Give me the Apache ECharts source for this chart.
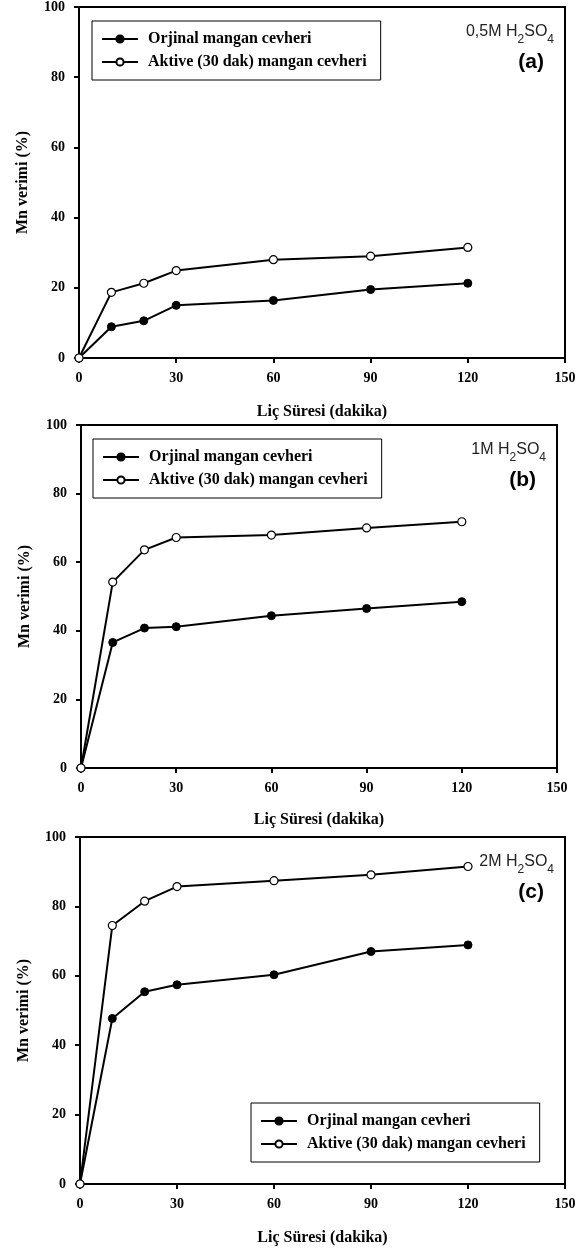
<!DOCTYPE html>
<html>
<head>
<meta charset="utf-8">
<script src="https://cdn.jsdelivr.net/npm/echarts@6/dist/echarts.min.js"></script>
<style>
  html, body { margin: 0; padding: 0; background: #fff; }
  #chart { width: 584px; height: 1251px; }
</style>
</head>
<body>
<div id="chart"></div>
<script>
// leaching time (dakika)
var timeMin = [0, 10, 20, 30, 60, 90, 120];
var seriesNames = ['Orjinal mangan cevheri', 'Aktive (30 dak) mangan cevheri'];
var xTicks = [0, 30, 60, 90, 120, 150];
var yTicks = [0, 20, 40, 60, 80, 100];

// (a) 0,5M H2SO4
var orjA = [0, 8.9, 10.6, 15.0, 16.4, 19.5, 21.3];
var aktA = [0, 18.7, 21.3, 24.9, 28.0, 29.0, 31.5];
// (b) 1M H2SO4
var orjB = [0, 36.6, 40.8, 41.2, 44.4, 46.5, 48.5];
var aktB = [0, 54.2, 63.6, 67.2, 67.9, 70.0, 71.8];
// (c) 2M H2SO4
var orjC = [0, 47.7, 55.4, 57.4, 60.3, 67.0, 68.9];
var aktC = [0, 74.5, 81.5, 85.7, 87.4, 89.1, 91.5];

var panelLabels = ['0,5M', '1M', '2M'];
var panelLetters = ['(a)', '(b)', '(c)'];

var serif = 'Liberation Serif';
var sans = 'Liberation Sans';

function pairs(vals) {
  return timeMin.map(function(t, i) { return [t, vals[i]]; });
}

var grids = [
  { left: 79, top: 7, width: 486, height: 351 },
  { left: 81, top: 425, width: 476, height: 343 },
  { left: 80, top: 837, width: 485, height: 347 }
];
var nameGaps = [46, 44, 46];

var option = {
  animation: false,
  backgroundColor: '#fff',
  grid: grids.map(function(g) {
    return {
      left: g.left, top: g.top, width: g.width, height: g.height,
      show: true, borderColor: '#000', borderWidth: 2, backgroundColor: 'transparent'
    };
  }),
  xAxis: [],
  yAxis: [],
  series: [],
  legend: [],
  title: []
};

var allData = [[orjA, aktA], [orjB, aktB], [orjC, aktC]];

grids.forEach(function(g, k) {
  option.xAxis.push({
    type: 'value', gridIndex: k, min: 0, max: 150, interval: 30,
    name: 'Liç Süresi (dakika)', nameLocation: 'middle', nameGap: nameGaps[k],
    nameTextStyle: { fontFamily: serif, fontWeight: 'bold', fontSize: 16, color: '#000' },
    axisLine: { show: true, lineStyle: { color: '#000', width: 2 } },
    axisTick: { show: true, inside: false, length: 5, lineStyle: { color: '#000', width: 2 } },
    axisLabel: { margin: 13, fontFamily: serif, fontWeight: 'bold', fontSize: 14, color: '#000' },
    splitLine: { show: false }
  });
  option.yAxis.push({
    type: 'value', gridIndex: k, min: 0, max: 100, interval: 20,
    name: 'Mn verimi (%)', nameLocation: 'middle', nameGap: 48,
    nameTextStyle: { fontFamily: serif, fontWeight: 'bold', fontSize: 16, color: '#000' },
    axisLine: { show: true, lineStyle: { color: '#000', width: 2 } },
    axisTick: { show: true, inside: false, length: 5, lineStyle: { color: '#000', width: 2 } },
    axisLabel: { margin: 14, fontFamily: serif, fontWeight: 'bold', fontSize: 14, color: '#000' },
    splitLine: { show: false }
  });
  var d = allData[k];
  option.series.push({
    name: seriesNames[0], type: 'line', xAxisIndex: k, yAxisIndex: k,
    data: pairs(d[0]), symbol: 'circle', symbolSize: 8,
    lineStyle: { color: '#000', width: 2 },
    itemStyle: { color: '#000', borderColor: '#000', borderWidth: 1 },
    z: 3
  });
  option.series.push({
    name: seriesNames[1], type: 'line', xAxisIndex: k, yAxisIndex: k,
    data: pairs(d[1]), symbol: 'circle', symbolSize: 8, showAllSymbol: true,
    lineStyle: { color: '#000', width: 2 },
    itemStyle: { color: '#fff', borderColor: '#000', borderWidth: 1.2 },
    z: 4
  });

  // subscripts for H2SO4
  option.title.push({
    text: '{t|' + panelLabels[k] + ' H}{s|2}{t|SO}{s|4}',
    right: 584 - (g.left + g.width) + 6,
    top: g.top + 12,
    textStyle: {
      fontWeight: 'normal',
      rich: {
        t: { fontFamily: sans, fontWeight: 'normal', fontSize: 16, color: '#222', verticalAlign: 'bottom' },
        s: { fontFamily: sans, fontWeight: 'normal', fontSize: 12, color: '#222', verticalAlign: 'bottom', padding: [0, 0, -6, 0] }
      }
    }
  });
  option.title.push({
    text: panelLetters[k],
    right: 584 - (g.left + g.width) + 16,
    top: g.top + 40,
    textStyle: { fontFamily: sans, fontWeight: 'bold', fontSize: 21, color: '#000' }
  });
});

var legendPos = [
  { left: 92, top: 21 },
  { left: 93, top: 439 },
  { left: 251, top: 1103 }
];
legendPos.forEach(function(p, k) {
  option.legend.push({
    data: seriesNames.map(function(n) { return n; }),
    orient: 'vertical',
    left: p.left, top: p.top,
    padding: [10, 14, 10, 9],
    itemGap: 7,
    itemWidth: 36, itemHeight: 9,
    borderColor: '#000', borderWidth: 1,
    backgroundColor: '#fff',
    selectedMode: false,
    textStyle: { fontFamily: serif, fontWeight: 'bold', fontSize: 16, color: '#000', padding: [0, 0, 0, 5] }
  });
});

var chart = echarts.init(document.getElementById('chart'));
chart.setOption(option);
</script>
</body>
</html>
